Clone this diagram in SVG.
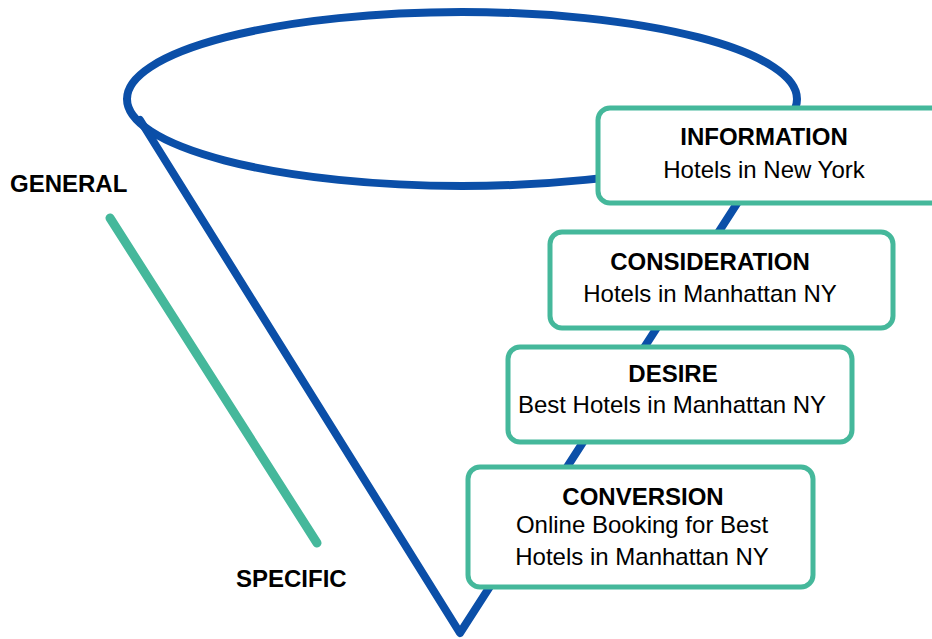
<svg xmlns="http://www.w3.org/2000/svg" width="932" height="639" viewBox="0 0 932 639">
<style>
.funnel{fill:none;stroke:#0b4fa8;stroke-width:8;stroke-linecap:round;stroke-linejoin:round}
.box{fill:#fff;stroke:#45b89b;stroke-width:5}
.t{font-family:"Liberation Sans",Arial,sans-serif;font-size:24px;fill:#000;text-anchor:middle}
.b{font-weight:bold}
.lbl{font-family:"Liberation Sans",Arial,sans-serif;font-size:24px;font-weight:bold;fill:#000}
</style>
<rect width="932" height="639" fill="#fff"/>
<g id="connectors">
<ellipse class="funnel" cx="462" cy="99" rx="335" ry="87"/>
<path class="funnel" d="M140,120 L460,633 L796,112"/>
<line x1="110" y1="218" x2="317" y2="543" stroke="#45b89b" stroke-width="9" stroke-linecap="round"/>
</g>
<g id="general"><text class="lbl" x="10" y="192">GENERAL</text></g>
<g id="specific"><text class="lbl" x="236" y="587">SPECIFIC</text></g>
<g id="information">
<rect class="box" x="598" y="108" width="360" height="95" rx="12"/>
<text class="t b" x="764" y="145">INFORMATION</text>
<text class="t" x="764" y="178">Hotels in New York</text>
</g>
<g id="consideration">
<rect class="box" x="550" y="232" width="343" height="96" rx="12"/>
<text class="t b" x="710" y="270">CONSIDERATION</text>
<text class="t" x="710" y="302">Hotels in Manhattan NY</text>
</g>
<g id="desire">
<rect class="box" x="508" y="347" width="344" height="95" rx="12"/>
<text class="t b" x="673" y="382">DESIRE</text>
<text class="t" x="672" y="413">Best Hotels in Manhattan NY</text>
</g>
<g id="conversion">
<rect class="box" x="468" y="467" width="345" height="120" rx="12"/>
<text class="t b" x="643" y="505">CONVERSION</text>
<text class="t" x="642" y="533">Online Booking for Best</text>
<text class="t" x="642" y="565">Hotels in Manhattan NY</text>
</g>
</svg>
